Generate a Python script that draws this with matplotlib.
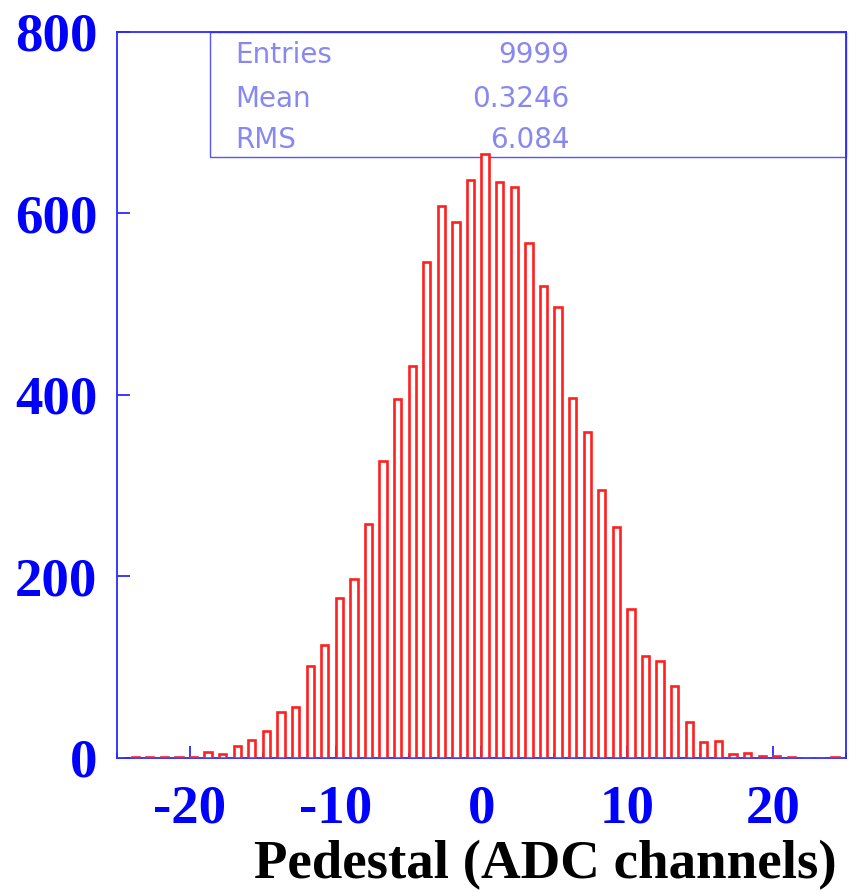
import matplotlib
matplotlib.use("Agg")
import matplotlib.pyplot as plt
from matplotlib.patches import Rectangle
import numpy as np

# pedestal histogram, 50 bins of width 1 from -25 to 25 (left bin edges)
bin_edges = list(range(-25, 25))
counts = [0, 1, 1, 1, 1, 1, 7, 4, 13, 20,
          30, 51, 56, 101, 124, 176, 197, 258, 327, 396,
          432, 546, 608, 591, 637, 666, 635, 629, 567, 520,
          497, 397, 359, 295, 255, 164, 112, 107, 79, 40,
          18, 19, 4, 6, 2, 2, 1, 0, 0, 1]

stat_names = ["Entries", "Mean", "RMS"]
stat_values = ["9999", "0.3246", "6.084"]

x_ticks = [-20, -10, 0, 10, 20]
y_ticks = [0, 200, 400, 600, 800]

BLUE = "#2a2aff"
TICK_FONT = dict(family="Liberation Serif", weight="bold", size=39.5)

fig = plt.figure(figsize=(8.5, 8.93), dpi=100)
ax = fig.add_axes([0.1376, 0.1512, 0.8577, 0.813])

ax.bar(bin_edges, counts, width=0.5, align="edge", facecolor="white",
       edgecolor="#ff2020", linewidth=1.9, zorder=3)

ax.set_xlim(-25, 25)
ax.set_ylim(0, 800)

for s in ax.spines.values():
    s.set_color(BLUE)
    s.set_linewidth(1.3)
ax.spines["bottom"].set_zorder(2)

ax.set_xticks(x_ticks)
ax.set_xticks(np.arange(-25, 26, 5), minor=True)
ax.set_yticks(y_ticks)
ax.tick_params(axis="x", which="major", direction="in", length=8.6, width=1.3,
               color=BLUE, labelcolor="blue", pad=19)
ax.tick_params(axis="x", which="minor", direction="in", length=3.6, width=1.3,
               color=BLUE)
ax.tick_params(axis="y", which="major", direction="in", length=9.4, width=1.3,
               color=BLUE, labelcolor="blue", pad=14)
for lab in ax.get_xticklabels() + ax.get_yticklabels():
    lab.set_fontfamily(TICK_FONT["family"])
    lab.set_fontweight(TICK_FONT["weight"])
    lab.set_fontsize(TICK_FONT["size"])
ax.set_xticklabels([f"{t}" for t in x_ticks])

# stats box
box = Rectangle((0.1276, 0.828), 0.8724, 0.172, transform=ax.transAxes,
                facecolor="none", edgecolor="#5555ff", linewidth=1.0, zorder=2,
                clip_on=False)
ax.add_patch(box)
rows_y = [0.957, 0.897, 0.840]
for name, val, yy in zip(stat_names, stat_values, rows_y):
    ax.text(0.162, yy, name, transform=ax.transAxes, ha="left", va="baseline",
            fontsize=20, color="#8888f2", family="DejaVu Sans", zorder=4)
    ax.text(0.621, yy, val, transform=ax.transAxes, ha="right", va="baseline",
            fontsize=20, color="#8888f2", family="DejaVu Sans", zorder=4)

fig.text(0.984, 0.016, "Pedestal (ADC channels)", ha="right", va="baseline",
         family="Liberation Serif", weight="bold", size=39.5, color="black")

fig.savefig("out.png", dpi=100, facecolor="white")
